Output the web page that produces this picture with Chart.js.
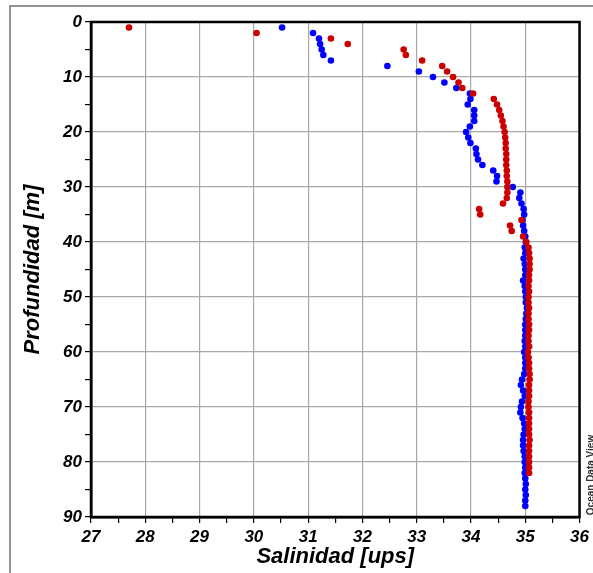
<!DOCTYPE html>
<html>
<head>
<meta charset="utf-8">
<script src="https://cdn.jsdelivr.net/npm/chart.js@4"></script>
<style>
  body { margin: 0; background: #fff; }
  canvas { display: block; }
</style>
</head>
<body>
<canvas id="chart-1" width="593" height="573"></canvas>
<script>
// estacion A (rojo) - profundidad 1..82 m
var prof_rojo = [];
for (let i = 1; i <= 82; i++) prof_rojo.push(i);
var sal_rojo = [
  27.70, 30.05, 31.42, 31.73, 32.76, 32.80, 33.10, 33.47, 33.56, 33.67,
  33.77, 33.84, 34.04, 34.42, 34.48, 34.52, 34.55, 34.58, 34.60, 34.62,
  34.63, 34.64, 34.64, 34.65, 34.65, 34.65, 34.66, 34.66, 34.67, 34.67,
  34.67, 34.66, 34.59, 34.15, 34.17, 34.93, 34.72, 34.75, 34.96, 35.02,
  35.06, 35.07, 35.08, 35.08, 35.08, 35.07, 35.07, 35.06, 35.07, 35.06,
  35.06, 35.07, 35.06, 35.06, 35.07, 35.07, 35.06, 35.06, 35.07, 35.05,
  35.06, 35.07, 35.07, 35.08, 35.08, 35.07, 35.07, 35.07, 35.06, 35.06,
  35.07, 35.07, 35.07, 35.07, 35.07, 35.08, 35.07, 35.07, 35.07, 35.07,
  35.07, 35.07
];

// estacion B (azul) - profundidad 1..88 m
var prof_azul = [];
for (let i = 1; i <= 88; i++) prof_azul.push(i);
var sal_azul = [
  30.52, 31.09, 31.20, 31.22, 31.25, 31.28, 31.42, 32.46, 33.04, 33.30,
  33.51, 33.73, 33.98, 33.99, 33.94, 34.06, 34.06, 34.06, 33.98, 33.91,
  33.95, 33.99, 34.09, 34.10, 34.13, 34.21, 34.41, 34.48, 34.47, 34.77,
  34.91, 34.89, 34.93, 34.97, 34.98, 34.95, 34.96, 34.98, 35.00, 35.01,
  34.99, 35.00, 34.97, 34.99, 35.00, 35.00, 34.96, 34.99, 35.00, 35.01,
  35.01, 35.03, 35.02, 35.01, 35.00, 35.00, 35.00, 34.99, 35.00, 34.98,
  35.00, 35.00, 35.00, 34.98, 34.94, 34.92, 34.96, 34.99, 34.94, 34.92,
  34.91, 34.95, 34.98, 34.99, 34.97, 34.96, 34.96, 34.97, 34.99, 34.99,
  35.00, 34.99, 35.00, 35.01, 35.00, 35.01, 35.00, 35.00
];

var x_ticks_min = 27, x_ticks_max = 36;
var y_ticks_min = 0, y_ticks_max = 90;

var puntos_rojo = sal_rojo.map((s, i) => ({ x: s, y: prof_rojo[i] }));
var puntos_azul = sal_azul.map((s, i) => ({ x: s, y: prof_azul[i] }));

var fuenteEje = { family: "'Liberation Sans', Arial, sans-serif", size: 17, weight: "bold", style: "italic" };
var fuenteTitulo = { family: "'Liberation Sans', Arial, sans-serif", size: 22, weight: "bold", style: "italic" };

// marco del grafico + marco exterior + texto ODV
const marcoPlugin = {
  id: "marco",
  beforeDraw(chart) {
    const c = chart.ctx;
    c.save();
    c.strokeStyle = "#707070";
    c.lineWidth = 1.5;
    c.strokeRect(10, 6, 600, 600);
    c.restore();
  },
  beforeDatasetsDraw(chart) {
    const a = chart.chartArea;
    const c = chart.ctx;
    c.save();
    c.strokeStyle = "#000";
    c.lineWidth = 2.5;
    c.strokeRect(a.left, a.top, a.right - a.left, a.bottom - a.top);
    c.restore();
  },
  afterDraw(chart) {
    const c = chart.ctx;
    c.save();
    c.translate(591, 475);
    c.rotate(-Math.PI / 2);
    c.font = "bold 10px 'Liberation Sans', Arial, sans-serif";
    c.fillStyle = "#333";
    c.textAlign = "center";
    c.textBaseline = "middle";
    c.fillText("Ocean Data View", 0, 0);
    c.restore();
  }
};

const chart1 = document.getElementById("chart-1").getContext("2d");
const myChart1 = new Chart(chart1, {
  type: "scatter",
  data: {
    datasets: [
      {
        label: "Rojo",
        data: puntos_rojo,
        backgroundColor: "#cc0000",
        borderColor: "#cc0000",
        pointRadius: 3.3,
        borderWidth: 0,
      },
      {
        label: "Azul",
        data: puntos_azul,
        backgroundColor: "#0000ff",
        borderColor: "#0000ff",
        pointRadius: 3.3,
        borderWidth: 0,
      },
    ],
  },
  options: {
    responsive: false,
    animation: false,
    layout: { padding: { left: 0, top: 22, right: 13, bottom: 0 } },
    plugins: {
      legend: { display: false },
      tooltip: { enabled: false },
    },
    scales: {
      x: {
        type: "linear",
        position: "bottom",
        min: x_ticks_min,
        max: x_ticks_max,
        afterFit: (s) => { s.height = 56; },
        ticks: {
          stepSize: 0.5,
          autoSkip: false,
          maxRotation: 0,
          padding: 4,
          color: "#000",
          font: fuenteEje,
          callback: (v) => (Number.isInteger(v) ? v : ""),
        },
        grid: {
          color: (ctx) => (ctx.tick && Number.isInteger(ctx.tick.value) ? "#a8a8a8" : "transparent"),
          tickColor: "#000",
          tickLength: 6,
          lineWidth: 1.2,
        },
        border: { display: true, color: "#000", width: 2.5 },
        title: {
          display: true,
          text: "Salinidad [ups]",
          color: "#000",
          font: fuenteTitulo,
          padding: { top: 0, bottom: 3 },
        },
      },
      y: {
        type: "linear",
        min: y_ticks_min,
        max: y_ticks_max,
        reverse: true,
        afterFit: (s) => { s.width = 91; },
        ticks: {
          stepSize: 5,
          autoSkip: false,
          padding: 3,
          color: "#000",
          font: fuenteEje,
          callback: (v) => (v % 10 === 0 ? v : ""),
        },
        grid: {
          color: (ctx) => (ctx.tick && ctx.tick.value % 10 === 0 ? "#a8a8a8" : "transparent"),
          tickColor: "#000",
          tickLength: 6,
          lineWidth: 1.2,
        },
        border: { display: true, color: "#000", width: 2.5 },
        title: {
          display: true,
          text: "Profundidad [m]",
          color: "#000",
          font: fuenteTitulo,
          padding: { top: 20, bottom: 0 },
        },
      },
    },
  },
  plugins: [marcoPlugin],
});
</script>
</body>
</html>
